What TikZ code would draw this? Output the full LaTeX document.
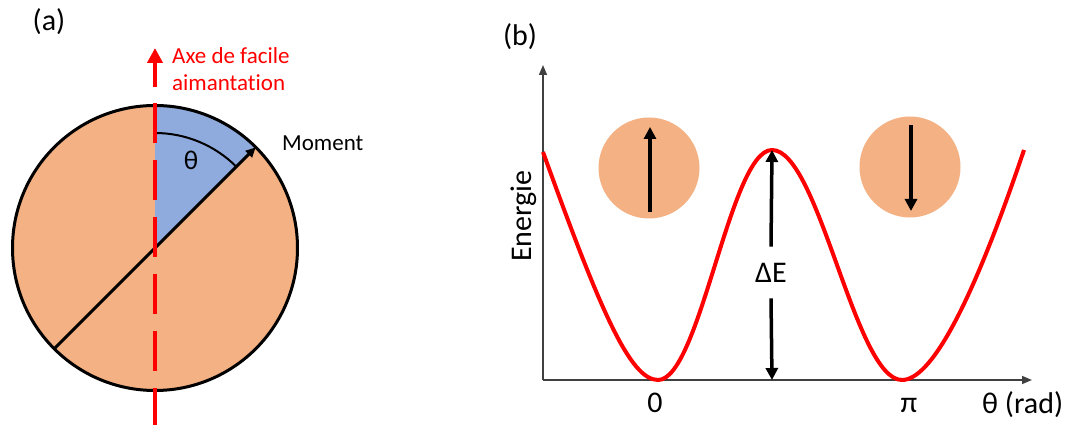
\documentclass[tikz,border=0pt]{standalone}
\usepackage{fontspec}
\setmainfont{Carlito}[Ligatures=NoCommon]
\usetikzlibrary{arrows.meta, positioning, calc}
\definecolor{grainorange}{HTML}{F4B183}
\definecolor{sectorblue}{HTML}{8FAADC}
\definecolor{easyred}{HTML}{FF0000}

\begin{document}
\begin{tikzpicture}[x=1pt, y=1pt,
    panel label/.style={font=\fontsize{30}{36}\selectfont},
    small label/.style={font=\fontsize{23}{27}\selectfont},
    big label/.style={font=\fontsize{30}{36}\selectfont},
    grain/.style={fill=grainorange, draw=none},
    easy axis/.style={easyred, line width=4.5pt},
    moment arrow/.style={line width=3.5pt, -{Triangle[length=12pt, width=12pt]}},
    axis arrow/.style={black!75, line width=1.5pt, -{Triangle[length=10pt, width=8pt]}},
    energy curve/.style={easyred, line width=4pt},
  ]
  \useasboundingbox (0,0) rectangle (1072,425);

  % Panel (a): grain and easy axis
  \node[panel label] (a label) at (49,403) {(a)};
  \coordinate (C) at (155,177);
  \fill[grainorange] (C) circle (142.5);
  \fill[sectorblue] (C) -- ++(90:142.5) arc (90:45:142.5) -- cycle;
  \draw[line width=3pt] (C) circle (142.5);
  \coordinate (M tail) at ($(C)+(225:142.5)$);
  \coordinate (M head) at ($(C)+(45:142.5)$);
  \draw[line width=3pt, -{Triangle[length=10pt, width=9pt]}] (M tail) -- (M head);
  \draw[line width=2pt] ($(C)+(90:115)$) arc (90:45:115);
  \node[font=\fontsize{27}{32}\selectfont] (theta) at (191,265) {θ};
  \node[small label, anchor=west, inner sep=0] (moment label) at (282,282) {Moment};

  % easy axis (dashed) with its arrow
  \coordinate (easy top) at (155,322);
  \coordinate (easy bottom) at (155,0);
  \coordinate (easy base) at (155,338);
  \coordinate (easy tip) at (155,377);
  \draw[easy axis, dash pattern=on 40pt off 17pt] (easy top) -- (easy bottom);
  \draw[easy axis, -{Triangle[length=15pt, width=15pt]}] (easy base) -- (easy tip);
  \node[small label, text=easyred, anchor=west, align=left, inner sep=0] (easy label)
    at (172,355.5) {Axe de facile\\aimantation};

  % Panel (b): energy landscape
  \node[panel label] (b label) at (520,388) {(b)};
  \coordinate (O) at (543,45);
  \coordinate (y tip) at (543,360);
  \coordinate (x tip) at (1032,45);
  \draw[axis arrow] (O) -- (y tip);
  \draw[axis arrow] (O) -- (x tip);
  \node[big label, rotate=90] (energy label) at (524,209) {Energie};

  % grains with moment up and down
  \fill[grain] (649,257) circle (50.5);
  \fill[grain] (910,258) circle (50.5);
  \coordinate (up tail) at (650,213);
  \coordinate (up head) at (650,298);
  \coordinate (down tail) at (911,300);
  \coordinate (down head) at (911,214);
  \draw[moment arrow] (up tail) -- (up head);
  \draw[moment arrow] (down tail) -- (down head);

  % double well
  \draw[energy curve] (543,273) .. controls (600,115) and (630,45) .. (658,45)
    .. controls (700,45) and (730,275) .. (772,275)
    .. controls (819,275) and (855,45) .. (902,45)
    .. controls (930,45) and (970,115) .. (1024,275);

  % barrier height
  \coordinate (peak) at (772,275);
  \coordinate (base) at (772,45);
  \node[big label, inner xsep=0, inner ysep=16pt] (dE) at (771,152.5) {ΔE};
  \draw[moment arrow] (dE.north) -- (peak);
  \draw[moment arrow] (dE.south) -- (base);

  % tick labels
  \node[big label, anchor=base] (zero) at (655,12) {0};
  \node[big label, anchor=base] (pi) at (909,12) {π};
  \node[big label, anchor=base west, inner sep=0] (theta unit) at (982,11) {θ (rad)};
\end{tikzpicture}
\end{document}
